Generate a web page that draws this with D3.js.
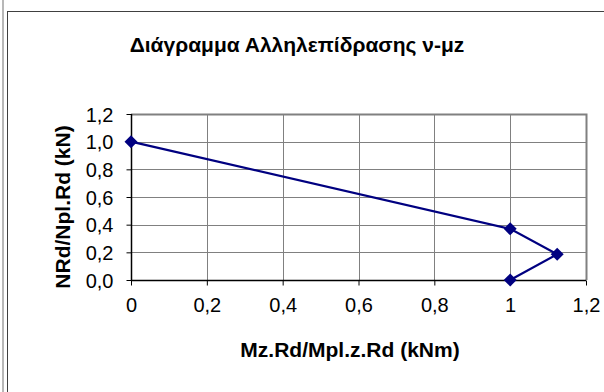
<!DOCTYPE html>
<html lang="el">
  <head>
    <meta charset="utf-8">
    <title>Διάγραμμα Αλληλεπίδρασης</title>
    <script type="text/javascript" src="https://cdnjs.cloudflare.com/ajax/libs/d3/7.8.5/d3.min.js"></script>
    <style>
      body { margin: 0; background: #fff; }
      svg { display: block; font-family: "Liberation Sans", Arial, sans-serif; }
    </style>
  </head>
  <body>
    <script type="text/javascript">
    // interaction curve points
    var mRatio = [0, 1, 1.124, 1];
    var nRatio = [1, 0.37, 0.186, 0];

    var xTicks = [0, 0.2, 0.4, 0.6, 0.8, 1, 1.2];
    var yTicks = [0, 0.2, 0.4, 0.6, 0.8, 1.0, 1.2];

    var titleText = "Διάγραμμα Αλληλεπίδρασης ν-μz";
    var xTitle = "Mz.Rd/Mpl.z.Rd (kNm)";
    var yTitle = "NRd/Npl.Rd (kN)";

    var w = 604;
    var h = 392;

    var svg = d3.select("body")
                .append("svg")
                .attr("width", w)
                .attr("height", h);

    // outer frame bits at the left / top
    svg.append("rect").attr("x", 2).attr("y", 0).attr("width", 2).attr("height", h).attr("fill", "#b8b8b8");
    svg.append("line").attr("x1", 7.5).attr("x2", 7.5).attr("y1", 11).attr("y2", h)
       .attr("stroke", "#404040").attr("stroke-width", 1);
    svg.append("line").attr("x1", 7).attr("x2", w).attr("y1", 11.5).attr("y2", 11.5)
       .attr("stroke", "#404040").attr("stroke-width", 1);

    var xScale = d3.scaleLinear().domain([0, 1.2]).range([131, 586]);
    var yScale = d3.scaleLinear().domain([0, 1.2]).range([280, 114]);

    // gridlines
    svg.append("g")
       .selectAll("line.v")
       .data(xTicks.slice(1))
       .enter()
       .append("line")
       .attr("x1", function(d) { return Math.round(xScale(d)) + 0.5; })
       .attr("x2", function(d) { return Math.round(xScale(d)) + 0.5; })
       .attr("y1", yScale(1.2))
       .attr("y2", yScale(0))
       .attr("stroke", "#808080");

    svg.append("g")
       .selectAll("line.h")
       .data(yTicks.slice(1))
       .enter()
       .append("line")
       .attr("x1", xScale(0))
       .attr("x2", xScale(1.2))
       .attr("y1", function(d) { return Math.round(yScale(d)) + 0.5; })
       .attr("y2", function(d) { return Math.round(yScale(d)) + 0.5; })
       .attr("stroke", "#808080");

    // plot area border top and right
    svg.append("path")
       .attr("d", "M" + xScale(0) + "," + (yScale(1.2) + 0.5) + "H" + (xScale(1.2) + 0.5) + "V" + yScale(0))
       .attr("fill", "none")
       .attr("stroke", "#808080")
       .attr("stroke-width", 2);

    // axes
    var xAxis = d3.axisBottom(xScale)
                  .tickValues(xTicks)
                  .tickSize(5)
                  .tickFormat(function(d) { return String(+d.toFixed(1)).replace(".", ","); });
    var yAxis = d3.axisLeft(yScale)
                  .tickValues(yTicks)
                  .tickSize(5)
                  .tickFormat(function(d) { return d.toFixed(1).replace(".", ","); });

    var gx = svg.append("g")
       .attr("transform", "translate(0," + (Math.round(yScale(0)) + 0.5) + ")")
       .call(xAxis);
    var gy = svg.append("g")
       .attr("transform", "translate(" + (Math.round(xScale(0)) + 0.5) + ",0)")
       .call(yAxis);

    [gx, gy].forEach(function(g) {
      g.attr("font-size", 20).attr("font-family", null);
      g.select(".domain").attr("stroke", "#000").attr("stroke-width", 1.5);
      g.selectAll(".tick line").attr("stroke", "#000");
      g.selectAll(".tick text").attr("fill", "#000");
    });
    gx.select(".domain").attr("d", "M" + xScale(0) + ",0H" + xScale(1.2));
    gy.select(".domain").attr("d", "M0," + yScale(0) + "V" + yScale(1.2));
    gx.selectAll(".tick text").attr("y", 31).attr("dy", 0);
    gy.selectAll(".tick text").attr("x", -18).attr("dy", "0.36em");

    // the curve
    var line = d3.line()
                 .x(function(d, i) { return xScale(mRatio[i]); })
                 .y(function(d, i) { return yScale(nRatio[i]); });

    svg.append("path")
       .datum(mRatio)
       .attr("d", line)
       .attr("fill", "none")
       .attr("stroke", "#000080")
       .attr("stroke-width", 2.2);

    svg.selectAll("path.marker")
       .data(mRatio)
       .enter()
       .append("path")
       .attr("class", "marker")
       .attr("d", "M0,-6.5L6.5,0L0,6.5L-6.5,0Z")
       .attr("transform", function(d, i) {
         return "translate(" + xScale(d) + "," + yScale(nRatio[i]) + ")";
       })
       .attr("fill", "#000080");

    // titles
    svg.append("text")
       .text(titleText)
       .attr("x", 297)
       .attr("y", 52)
       .attr("text-anchor", "middle")
       .attr("font-size", 21)
       .attr("font-weight", "bold");

    svg.append("text")
       .text(xTitle)
       .attr("x", 350)
       .attr("y", 357)
       .attr("text-anchor", "middle")
       .attr("font-size", 21)
       .attr("font-weight", "bold");

    svg.append("text")
       .text(yTitle)
       .attr("transform", "translate(70,207) rotate(-90)")
       .attr("text-anchor", "middle")
       .attr("font-size", 21)
       .attr("font-weight", "bold");
    </script>
  </body>
</html>
